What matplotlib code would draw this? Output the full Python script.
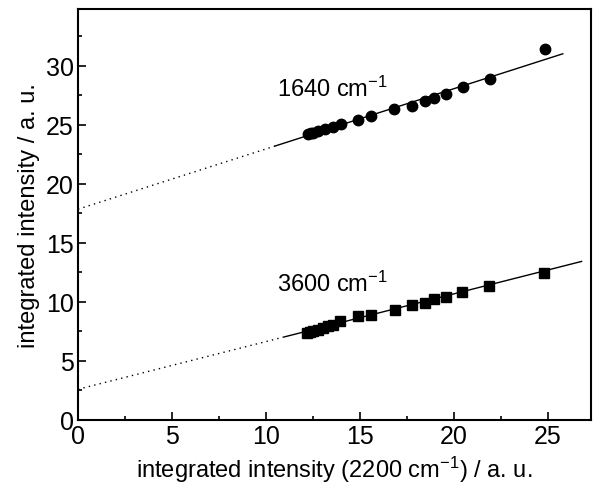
import matplotlib
matplotlib.use("Agg")
import matplotlib.pyplot as plt
import numpy as np
from matplotlib.ticker import MultipleLocator

plt.rcParams["font.family"] = ["Liberation Sans", "DejaVu Sans"]
plt.rcParams["mathtext.default"] = "regular"

# 2200 cm-1 integrated intensity (x), shared by both bands
x_sq = [12.16, 12.34, 12.52, 12.78, 13.05, 13.31, 13.58, 13.94, 14.91, 15.59,
        16.86, 17.75, 18.46, 18.94, 19.56, 20.46, 21.86, 24.80]
y_sq = [7.37, 7.43, 7.52, 7.65, 7.77, 7.94, 8.05, 8.42, 8.84, 8.92,
        9.35, 9.77, 9.92, 10.25, 10.42, 10.87, 11.38, 12.46]

x_ci = [12.25, 12.40, 12.52, 12.78, 13.14, 13.58, 13.97, 14.91, 15.59,
        16.81, 17.75, 18.46, 18.94, 19.56, 20.49, 21.91, 24.84]
y_ci = [24.24, 24.30, 24.32, 24.43, 24.60, 24.81, 25.08, 25.36, 25.74,
        26.30, 26.58, 27.00, 27.29, 27.63, 28.19, 28.90, 31.44]

# linear fits (slope, intercept)
fit_1640 = (0.51, 17.85)
fit_3600 = (0.404, 2.6)

fig = plt.figure(figsize=(5.93, 4.89), dpi=100)
ax = fig.add_axes([78 / 593, 68 / 489, 513 / 593, 411 / 489])


def draw_fit(fit, x_split, x_end):
    m, b = fit
    xd = np.array([0, x_split])
    ax.plot(xd, m * xd + b, color="black", lw=1.0, ls=(0, (1, 3)))
    xs = np.array([x_split, x_end])
    ax.plot(xs, m * xs + b, color="black", lw=1.0)


draw_fit(fit_1640, 10.5, 25.8)
draw_fit(fit_3600, 11.0, 26.8)

ax.plot(x_ci, y_ci, "o", color="black", ms=7.5)
ax.plot(x_sq, y_sq, "s", color="black", ms=6.5)

ax.text(10.6, 28.1, "1640 cm$^{-1}$", fontsize=17, va="center")
ax.text(10.6, 11.6, "3600 cm$^{-1}$", fontsize=17, va="center")

ax.set_xlim(0, 27.3)
ax.set_ylim(0, 34.8)
ax.xaxis.set_major_locator(MultipleLocator(5))
ax.xaxis.set_minor_locator(MultipleLocator(2.5))
ax.yaxis.set_major_locator(MultipleLocator(5))
ax.yaxis.set_minor_locator(MultipleLocator(2.5))
ax.tick_params(which="both", direction="in", labelsize=18, width=1.2)
ax.tick_params(which="major", length=6)
ax.tick_params(which="minor", length=3)
ax.tick_params(axis="x", pad=3)
ax.tick_params(axis="y", pad=3)
for s in ax.spines.values():
    s.set_linewidth(1.5)

ax.set_xlabel("integrated intensity (2200 cm$^{-1}$) / a. u.", fontsize=17, labelpad=4)
ax.set_ylabel("integrated intensity / a. u.", fontsize=17, labelpad=4)

fig.savefig("out.png", dpi=100)
